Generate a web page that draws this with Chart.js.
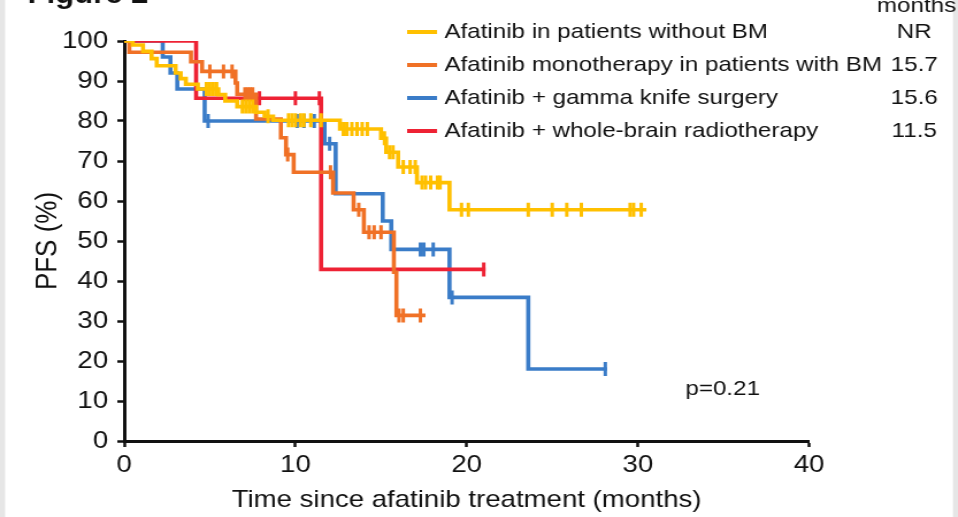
<!DOCTYPE html>
<html>
<head>
<meta charset="utf-8">
<script src="https://cdn.jsdelivr.net/npm/chart.js@4.4.1/dist/chart.umd.min.js"></script>
<style>
  html, body { margin: 0; padding: 0; background: #fff; overflow: hidden; }
  #wrap { width: 958px; height: 517px; position: relative; }
  /* the source figure is stretched sideways, so the canvas is too */
  #km { display: block; transform: scaleX(1.15); transform-origin: 0 0; }
</style>
</head>
<body>
<div id="wrap"><canvas id="km" width="833" height="517"></canvas></div>
<script>
// Kaplan-Meier steps (months, PFS %)
const noBmTimes = [0, 0.5, 1.1, 1.6, 1.9, 3.0, 3.3, 3.6, 4.3, 5.5, 5.9, 6.6, 7.7, 8.2, 8.7, 12.6, 15.0, 15.3, 16.0, 17.1, 19.0];
const noBmSurv = [100, 99.0, 97.4, 95.6, 93.8, 92.0, 90.6, 89.2, 88.0, 86.6, 85.0, 83.6, 82.2, 81.2, 80.2, 78.0, 75.7, 72.2, 68.5, 64.6, 57.8];
const noBmCensor = [4.8, 5.0, 5.2, 5.4, 6.9, 7.1, 7.3, 7.5, 8.4, 9.6, 9.8, 10.0, 10.3, 10.5, 10.9, 11.5, 12.8, 13.0, 13.3, 13.6, 13.9, 14.2, 15.2, 15.5, 15.7, 16.3, 16.7, 17.0, 17.4, 17.6, 17.9, 18.3, 18.45, 19.7, 20.1, 23.6, 25.0, 25.85, 26.7, 29.55, 29.75, 30.2];
const noBmEnd = 30.5;

const monoTimes = [0, 0.3, 3.9, 4.55, 6.5, 6.6, 7.7, 9.15, 9.45, 9.9, 12.2, 13.4, 14.0, 15.75, 15.9];
const monoSurv = [100, 97.2, 94.8, 92.4, 89.5, 86.7, 80.5, 75.8, 71.6, 67.2, 62.0, 57.8, 52.2, 42.2, 31.4];
const monoCensor = [5.0, 5.8, 6.3, 7.05, 7.2, 7.35, 7.5, 9.55, 12.05, 13.7, 14.3, 14.6, 15.0, 16.05, 16.3, 17.3];
const monoEnd = 17.6;

const gksTimes = [0, 2.25, 2.7, 3.1, 4.7, 11.7, 12.35, 15.1, 15.6, 19.0, 23.6];
const gksSurv = [100, 96, 92, 88, 80, 74.3, 61.8, 55.0, 47.9, 35.9, 18.0];
const gksCensor = [4.9, 10.1, 10.5, 11.1, 12.0, 17.3, 17.5, 18.05, 19.15, 28.1];
const gksEnd = 28.2;

const wbrtTimes = [0, 4.2, 11.5];
const wbrtSurv = [100, 85.7, 42.9];
const wbrtCensor = [7.9, 10.0, 11.4, 21.0];
const wbrtEnd = 21.1;

const groupLabels = ['Afatinib in patients without BM', 'Afatinib monotherapy in patients with BM', 'Afatinib + gamma knife surgery', 'Afatinib + whole-brain radiotherapy'];
const medianLabels = ['NR', '15.7', '15.6', '11.5'];
const groupColors = ['#FFC000', '#F07126', '#3A7CC8', '#EE2234'];
const xTicks = [0, 10, 20, 30, 40];
const yTicks = [0, 10, 20, 30, 40, 50, 60, 70, 80, 90, 100];

const FONT = '"Liberation Sans", Arial, sans-serif';
const INK = '#111';

function survAt(times, surv, t) {
  let value = surv[0];
  times.forEach((time, i) => { if (time <= t) value = surv[i]; });
  return value;
}

function stepData(times, surv, end) {
  const pts = times.map((t, i) => ({ x: t, y: surv[i] }));
  pts.push({ x: end, y: surv[surv.length - 1] });
  return pts;
}

const groups = [
  { times: noBmTimes, surv: noBmSurv, censor: noBmCensor, end: noBmEnd },
  { times: monoTimes, surv: monoSurv, censor: monoCensor, end: monoEnd },
  { times: wbrtTimes, surv: wbrtSurv, censor: wbrtCensor, end: wbrtEnd, idx: 3 },
  { times: gksTimes, surv: gksSurv, censor: gksCensor, end: gksEnd, idx: 2 },
];

const datasets = [];
groups.forEach((g, i) => {
  const color = groupColors[g.idx ?? i];
  datasets.push({
    type: 'scatter',
    data: g.censor.map((t) => ({ x: t, y: survAt(g.times, g.surv, t) })),
    showLine: false,
    pointStyle: 'line',
    rotation: 90,
    pointRadius: 7,
    borderWidth: 3,
    borderColor: color,
    backgroundColor: color,
  });
  datasets.push({
    type: 'line',
    data: stepData(g.times, g.surv, g.end),
    stepped: true,
    borderColor: color,
    borderWidth: 3.6,
    pointRadius: 0,
    fill: false,
  });
});

const decor = {
  id: 'decor',
  beforeDraw(chart) {
    const ctx = chart.ctx;
    ctx.save();
    ctx.fillStyle = '#fff';
    ctx.fillRect(0, 0, chart.width, chart.height);
    ctx.restore();
  },
  afterDraw(chart) {
    const ctx = chart.ctx;
    ctx.save();
    ctx.fillStyle = '#e6e6e6';
    ctx.fillRect(0, 0, 4.4, chart.height);
    ctx.fillRect(828.7, 0, 5, chart.height);

    ctx.fillStyle = INK;
    ctx.font = 'bold 27px ' + FONT;
    ctx.textBaseline = 'alphabetic';
    ctx.textAlign = 'left';
    ctx.fillText('Figure 2', 24, 3);

    ctx.font = '21px ' + FONT;
    ctx.textBaseline = 'middle';
    groupLabels.forEach((label, i) => {
      const y = 32 + i * 33;
      ctx.strokeStyle = groupColors[i];
      ctx.lineWidth = 4;
      ctx.beginPath();
      ctx.moveTo(354, y);
      ctx.lineTo(380, y);
      ctx.stroke();
      ctx.fillStyle = INK;
      ctx.textAlign = 'left';
      ctx.fillText(label, 386.5, y);
      ctx.textAlign = 'center';
      ctx.fillText(medianLabels[i], 795, y);
    });
    ctx.textBaseline = 'alphabetic';
    ctx.fillText('months', 797, 12);

    ctx.textAlign = 'left';
    ctx.textBaseline = 'middle';
    ctx.fillText('p=0.21', 596, 389);
    ctx.restore();
  },
};

new Chart(document.querySelector('#km'), {
  data: { datasets },
  plugins: [decor],
  options: {
    responsive: false,
    animation: false,
    events: [],
    layout: { padding: { left: 0, right: 129.5, top: 41, bottom: 0 } },
    plugins: { legend: { display: false }, tooltip: { enabled: false } },
    scales: {
      x: {
        type: 'linear',
        min: 0,
        max: 40,
        afterBuildTicks: (scale) => { scale.ticks = xTicks.map((v) => ({ value: v })); },
        afterFit: (scale) => { scale.height = 76; },
        ticks: { color: INK, font: { family: FONT, size: 24 }, padding: 4 },
        grid: { drawOnChartArea: false, drawTicks: true, tickLength: 6, tickColor: INK, tickWidth: 2.5 },
        border: { display: true, color: INK, width: 3 },
        title: { display: true, text: 'Time since afatinib treatment (months)', color: INK, font: { family: FONT, size: 24 }, padding: { top: 0, bottom: 2 } },
      },
      y: {
        type: 'linear',
        min: 0,
        max: 100,
        afterBuildTicks: (scale) => { scale.ticks = yTicks.map((v) => ({ value: v })); },
        afterFit: (scale) => { scale.width = 108; },
        ticks: { color: INK, font: { family: FONT, size: 24 }, padding: 8 },
        grid: { drawOnChartArea: false, drawTicks: true, tickLength: 6, tickColor: INK, tickWidth: 2.5 },
        border: { display: true, color: INK, width: 3 },
        title: { display: true, text: 'PFS (%)', color: INK, font: { family: FONT, size: 26 }, padding: { top: 26, bottom: 0 } },
      },
    },
  },
});
</script>
</body>
</html>
